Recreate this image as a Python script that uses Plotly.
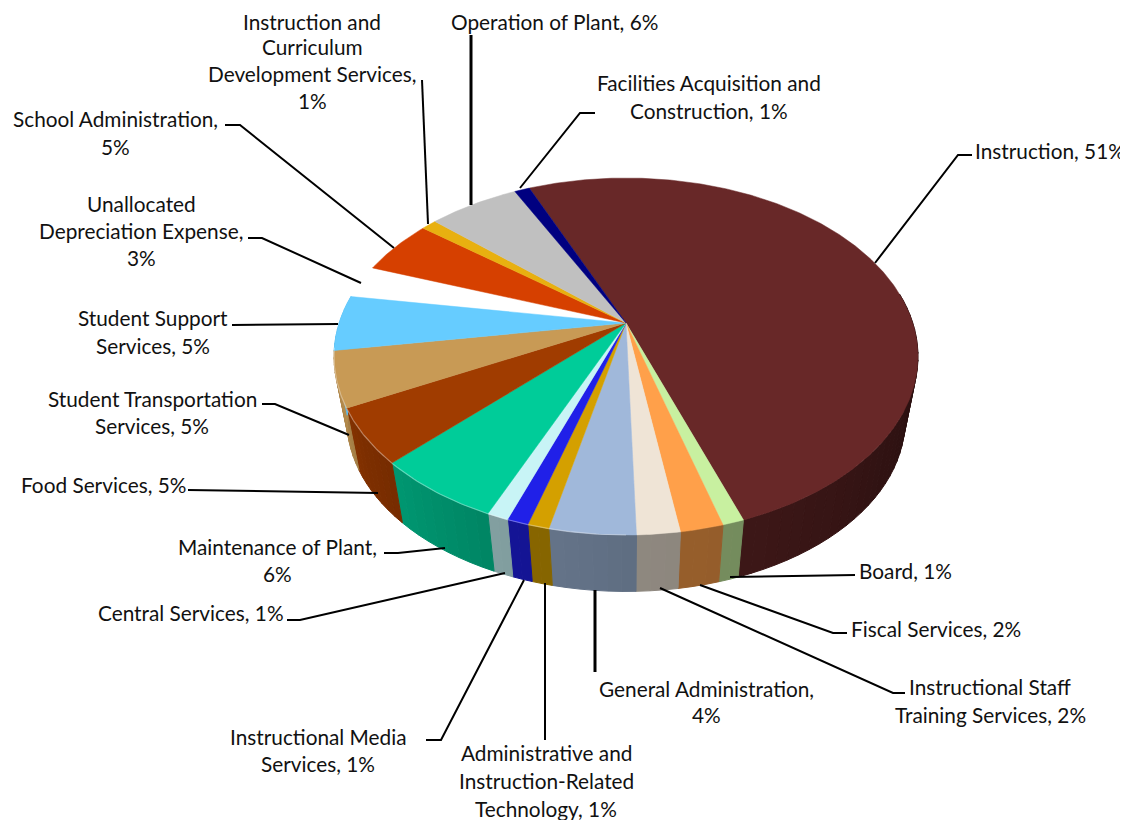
import numpy as np
import plotly.graph_objects as go

categories = ["Instruction", "Board", "Fiscal Services", "Instructional Staff Training Services",
              "General Administration", "Administrative and Instruction-Related Technology",
              "Instructional Media Services", "Central Services", "Maintenance of Plant",
              "Food Services", "Student Transportation Services", "Student Support Services",
              "Unallocated Depreciation Expense", "School Administration",
              "Instruction and Curriculum Development Services", "Operation of Plant",
              "Facilities Acquisition and Construction"]
values = [51, 1, 2, 2, 4, 1, 1, 1, 6, 5, 5, 5, 3, 5, 1, 6, 1]
colors = ["#682828", "#c8f0a0", "#ffa04a", "#efe4d6", "#a0b8da", "#d4a000", "#2020e8", "#c8f4f6",
          "#00cc99", "#a03c00", "#c89a55", "#66ccff", "#ffffff", "#d64000", "#e8b010", "#c0c0c0",
          "#000080"]

# projection of the tilted disc onto the page
CX, CY = 626, 323
A, B, K = 286.8, 172.2, 0.1877
DEPTH = 66
LOWER_SCALE = 0.955
START = -23.3


def project(phi, scale=1.0, drop=0.0):
    r = np.radians(phi)
    w = 1 + K * np.cos(r)
    return CX + scale * A * np.sin(r) / w, CY + drop - scale * B * np.cos(r) / w


def hex_rgb(h):
    return tuple(int(h[i:i + 2], 16) for i in (1, 3, 5))


def shade(hexcol, phi):
    f = np.interp(phi, [88, 110, 157, 180, 205, 235, 262, 285],
                  [0.3, 0.42, 0.58, 0.6, 0.66, 0.78, 0.92, 1.0])
    r, g, b = hex_rgb(hexcol)
    return f"rgb({int(r * f)},{int(g * f)},{int(b * f)})"


fig = go.Figure()
edges = START + np.concatenate([[0], np.cumsum(values)]) * 360 / sum(values)
STEP = 2.5

# side wall first, then the top face over it
for i, (c, lo, hi) in enumerate(zip(colors, edges[:-1], edges[1:])):
    if categories[i].startswith("Unallocated"):
        continue
    a0, a1 = max(lo, 80), min(hi, 285)
    if a1 <= a0:
        continue
    n = max(1, int(np.ceil((a1 - a0) / STEP)))
    grid = np.linspace(a0, a1, n + 1)
    for p0, p1 in zip(grid[:-1], grid[1:]):
        arc = np.linspace(p0, p1, 4)
        x, y = project(arc)
        x2, y2 = project(arc, LOWER_SCALE, DEPTH)
        xs = np.concatenate([x, x2[::-1], x[:1]])
        ys = np.concatenate([y, y2[::-1], y[:1]])
        col = shade(c, (p0 + p1) / 2)
        fig.add_trace(go.Scatter(x=xs, y=ys, mode="lines", fill="toself", fillcolor=col,
                                 line=dict(color=col, width=1), hoverinfo="skip", showlegend=False))

for i, (c, lo, hi) in enumerate(zip(colors, edges[:-1], edges[1:])):
    if categories[i].startswith("Unallocated"):
        continue
    arc = np.linspace(lo, hi, max(4, int(hi - lo) * 2))
    x, y = project(arc)
    xs = np.concatenate([[CX], x, [CX]])
    ys = np.concatenate([[CY], y, [CY]])
    fig.add_trace(go.Scatter(x=xs, y=ys, mode="lines", fill="toself", fillcolor=c,
                             line=dict(color=c, width=0.5), hoverinfo="text",
                             text=f"{categories[i]}, {values[i]}%", showlegend=False))
    if 180 < hi and lo < 262:
        a = np.linspace(max(lo, 180), min(hi, 262), 30)
        hx, hy = project(a)
        fig.add_trace(go.Scatter(x=hx, y=hy, mode="lines", hoverinfo="skip", showlegend=False,
                                 line=dict(color="rgba(255,255,255,0.35)", width=1.2)))

# leader lines and label lines (page layout)
leaders = [
    ([875, 958, 972], [263, 155, 155], 2),
    ([730, 855], [577, 575], 2),
    ([700, 833, 847], [585, 633, 633], 2),
    ([660, 893, 905], [588, 693, 693], 2),
    ([595, 595], [590, 672], 3),
    ([545, 545], [583, 740], 2),
    ([524, 441, 426], [580, 740, 740], 2),
    ([505, 300, 287], [573, 620, 620], 2),
    ([445, 398, 384], [548, 553, 553], 2),
    ([378, 188], [493, 490], 2),
    ([349, 275, 262], [435, 404, 404], 2),
    ([338, 232], [324, 325], 2),
    ([361, 262, 248], [283, 238, 238], 2),
    ([394, 240, 225], [248, 125, 125], 2),
    ([428, 422], [224, 80], 2),
    ([471, 471], [205, 35], 3),
    ([520, 580, 595], [188, 113, 113], 2),
]
for lx, ly, lw in leaders:
    fig.add_trace(go.Scatter(x=lx, y=ly, mode="lines", line=dict(color="black", width=lw),
                             hoverinfo="skip", showlegend=False))

label_lines = [
    ("Instruction, 51%", 973, 150, "left"),
    ("Board, 1%", 857, 570, "left"),
    ("Fiscal Services, 2%", 849, 628, "left"),
    ("Instructional Staff", 990, 686, "center"),
    ("Training Services, 2%", 990, 714, "center"),
    ("General Administration,", 706, 688, "center"),
    ("4%", 706, 714, "center"),
    ("Administrative and", 546, 752, "center"),
    ("Instruction-Related", 546, 780, "center"),
    ("Technology, 1%", 546, 808, "center"),
    ("Instructional Media", 318, 736, "center"),
    ("Services, 1%", 318, 763, "center"),
    ("Central Services, 1%", 96, 612, "left"),
    ("Maintenance of Plant,", 277, 546, "center"),
    ("6%", 277, 573, "center"),
    ("Food Services, 5%", 19, 484, "left"),
    ("Student Transportation", 152, 398, "center"),
    ("Services, 5%", 152, 425, "center"),
    ("Student Support", 153, 317, "center"),
    ("Services, 5%", 153, 345, "center"),
    ("Unallocated", 141, 203, "center"),
    ("Depreciation Expense,", 141, 230, "center"),
    ("3%", 141, 257, "center"),
    ("School Administration,", 115, 118, "center"),
    ("5%", 115, 146, "center"),
    ("Instruction and", 312, 21, "center"),
    ("Curriculum", 312, 46, "center"),
    ("Development Services,", 312, 73, "center"),
    ("1%", 312, 100, "center"),
    ("Operation of Plant, 6%", 449, 21, "left"),
    ("Facilities Acquisition and", 709, 82, "center"),
    ("Construction, 1%", 709, 110, "center"),
]
annotations = [dict(x=x, y=y, text=t, xref="x", yref="y", xanchor=anc, yanchor="middle", showarrow=False,
                    font=dict(family="Lato", size=20.8, color="#111111"))
               for t, x, y, anc in label_lines]

# the page adds an 8 px body margin, so the axes start at 8
fig.update_layout(
    width=1120, height=812, autosize=False,
    margin=dict(l=0, r=0, t=0, b=0), paper_bgcolor="white", plot_bgcolor="white",
    showlegend=False, annotations=annotations,
    xaxis=dict(range=[8, 1128], visible=False, fixedrange=True),
    yaxis=dict(range=[820, 8], visible=False, fixedrange=True),
)
fig.write_html("out.html", config=dict(displayModeBar=False))
